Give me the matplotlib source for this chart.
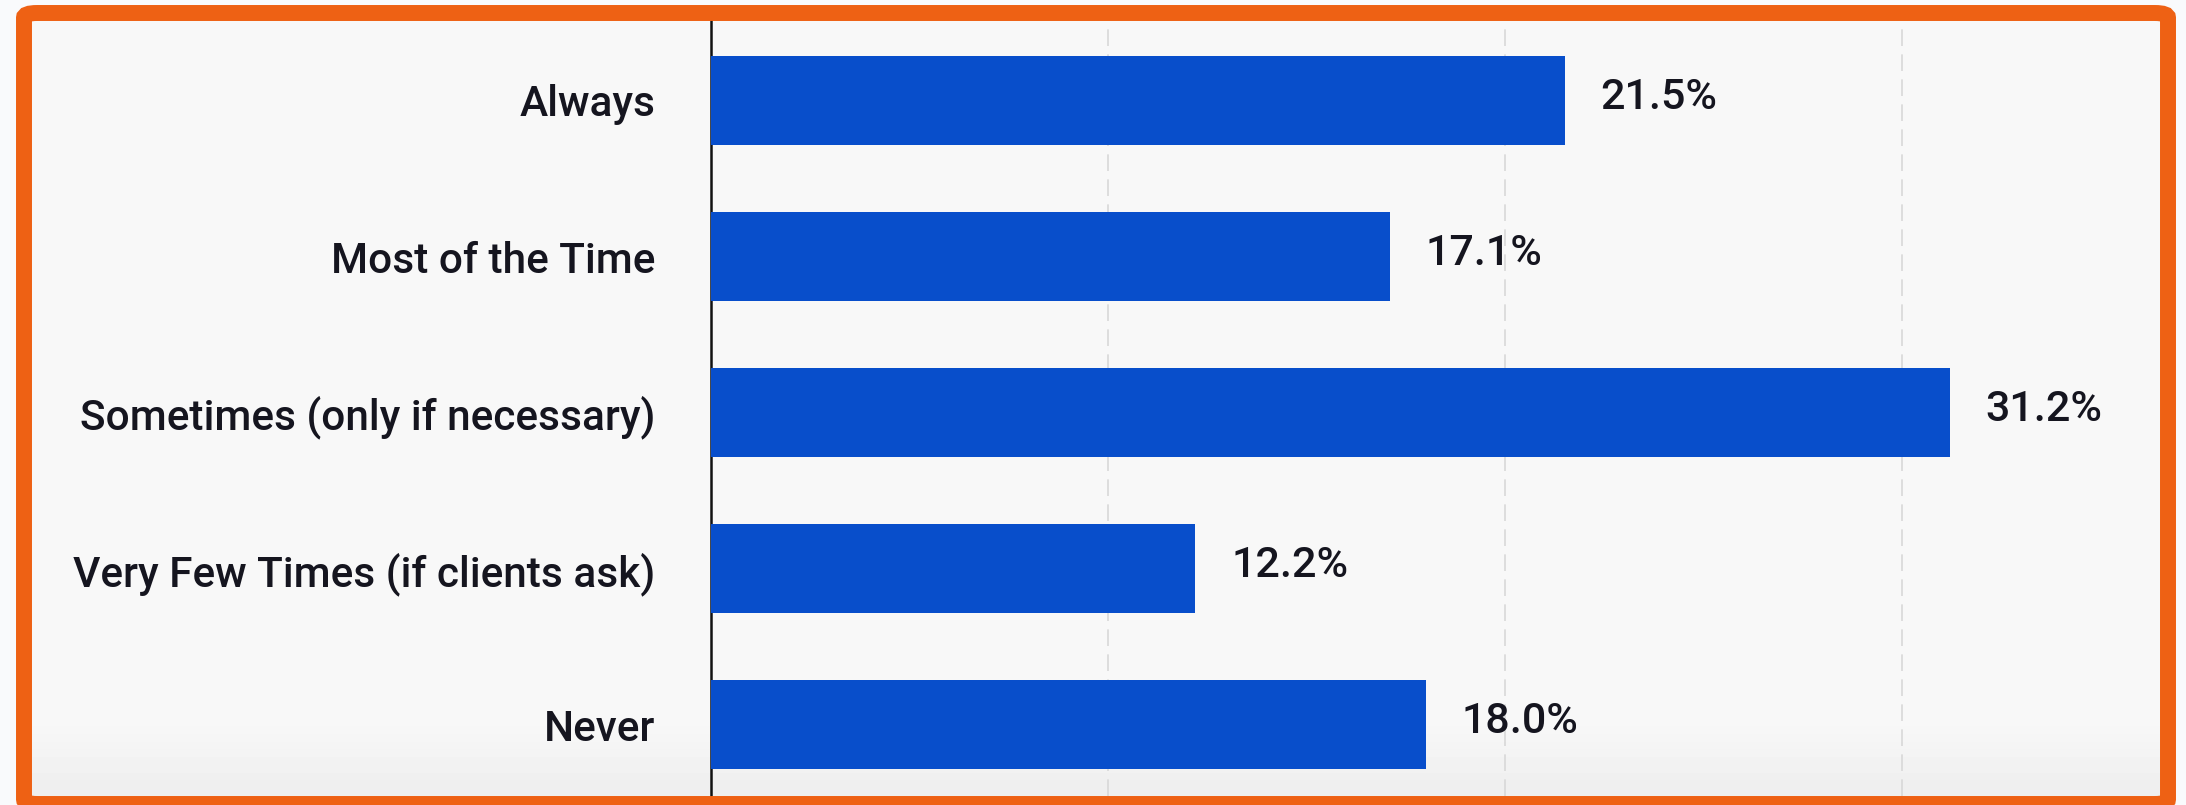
import numpy as np
import matplotlib.pyplot as plt
from matplotlib.colors import LinearSegmentedColormap
from matplotlib.patches import FancyBboxPatch

plt.rcParams['font.family'] = ['Roboto', 'DejaVu Sans']

categories = ['Always', 'Most of the Time', 'Sometimes (only if necessary)',
              'Very Few Times (if clients ask)', 'Never']
values = [21.5, 17.1, 31.2, 12.2, 18.0]
labels = ['21.5%', '17.1%', '31.2%', '12.2%', '18.0%']
grid_x = [10, 20, 30]

W, H = 2186, 805
fig = plt.figure(figsize=(W / 100, H / 100), dpi=100)
fig.patch.set_facecolor('#f9fafc')

# inner panel background, a bit darker near the bottom
bg = fig.add_axes([32 / W, 1 - 796 / H, (2160 - 32) / W, (796 - 21) / H])
grad = np.ones((100, 1))
grad[90:, 0] = np.linspace(1, 0, 10)
cm = LinearSegmentedColormap.from_list('g', ['#efefef', '#f8f8f8'])
bg.imshow(grad, aspect='auto', cmap=cm, vmin=0, vmax=1, extent=[0, 1, 0, 1])
bg.set_axis_off()

# chart axes
x0, x1, y0, y1 = 711, 2160, 21, 796
ax = fig.add_axes([x0 / W, 1 - y1 / H, (x1 - x0) / W, (y1 - y0) / H])
ax.set_facecolor('none')
pos = np.arange(len(categories))
ax.barh(pos, values, height=0.57, color='#084ecb', zorder=3)
ax.set_xlim(0, (x1 - x0) / 39.7)
ax.set_ylim(4.455, -0.509)
for g in grid_x:
    ax.axvline(g, color='#d8d8d8', lw=1.2, ls=(0, (10, 5)), zorder=1)
for p, v, t in zip(pos, values, labels):
    ax.text(v + 0.9, p - 0.02, t, va='center', ha='left', fontsize=31,
            fontweight='medium', color='#15151f')
ax.set_yticks(pos)
ax.set_yticklabels(categories, fontsize=30.5, fontweight='medium', color='#15151f')
ax.tick_params(axis='y', length=0, pad=40)
ax.set_xticks([])
for s in ['top', 'right', 'bottom']:
    ax.spines[s].set_visible(False)
ax.spines['left'].set_linewidth(1.8)
ax.spines['left'].set_color('#111111')

# orange frame
frame = FancyBboxPatch((24 / W, 1 / H), (2168 - 24) / W, (805 - 13 - 1) / H,
                       boxstyle='round,pad=0,rounding_size=0.006',
                       transform=fig.transFigure, fill=False,
                       edgecolor='#ee6114', linewidth=11.5, zorder=10)
fig.patches.append(frame)

fig.savefig('out.png', dpi=100, facecolor=fig.get_facecolor())
